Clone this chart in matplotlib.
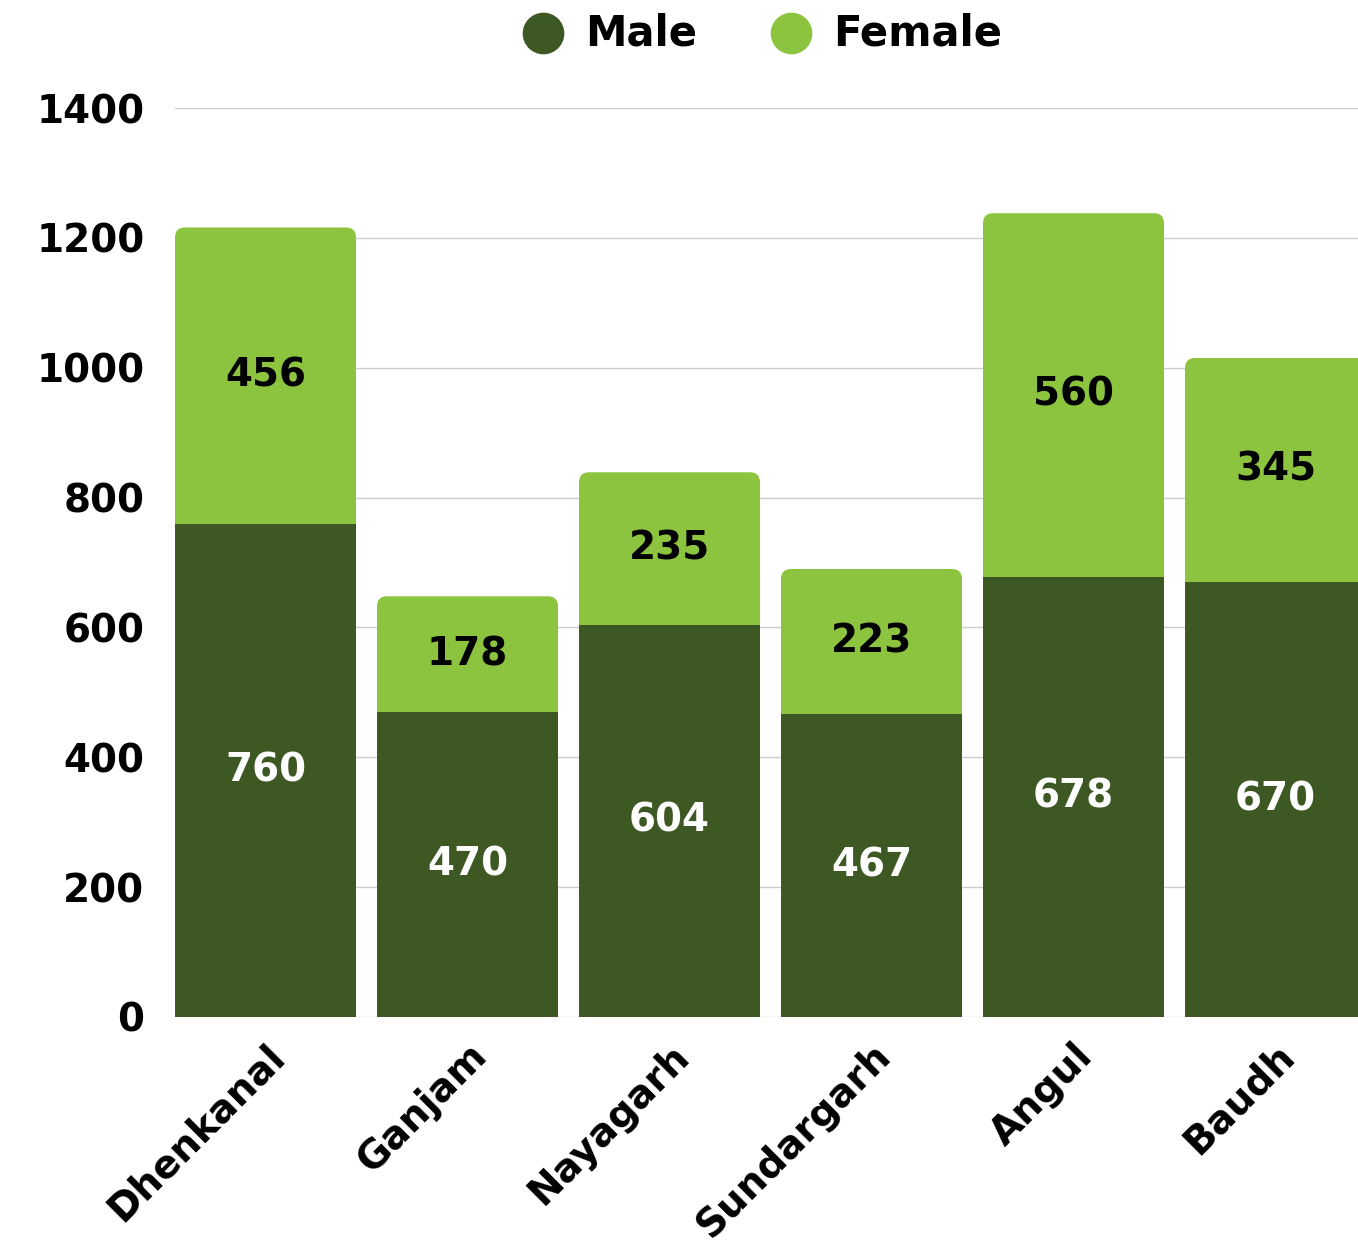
import matplotlib
matplotlib.use("Agg")
import matplotlib.pyplot as plt
from matplotlib.patches import FancyBboxPatch

districts = ["Dhenkanal", "Ganjam", "Nayagarh", "Sundargarh", "Angul", "Baudh"]
male = [760, 470, 604, 467, 678, 670]
female = [456, 178, 235, 223, 560, 345]
yticks = [0, 200, 400, 600, 800, 1000, 1200, 1400]
series = ["Male", "Female"]

MALE_C = "#3e5824"
FEMALE_C = "#8dc43f"

plt.rcParams['font.family'] = ['DejaVu Sans']
FW = 'bold'
FS = 28

W, H = 1358, 1248
fig = plt.figure(figsize=(W / 100, H / 100), dpi=100)
ax_l, ax_r, ax_t, ax_b = 175, 1358, 108, 1017
ax = fig.add_axes([ax_l / W, 1 - ax_b / H, (ax_r - ax_l) / W, (ax_b - ax_t) / H])

step_px = 202.0
width = 181 / step_px
xmin = -width / 2
xmax = xmin + (ax_r - ax_l) / step_px
ax.set_xlim(xmin, xmax)
ax.set_ylim(0, 1400)

px_per_y = (ax_b - ax_t) / 1400
r_px = 10
r_x = r_px / step_px
aspect = (r_px / px_per_y) / r_x

x = list(range(len(districts)))
for i in x:
    m, f = male[i], female[i]
    p = FancyBboxPatch((i - width / 2, m - 40), width, f + 40,
                       boxstyle=f"round,pad=0,rounding_size={r_x}",
                       mutation_aspect=aspect, facecolor=FEMALE_C,
                       edgecolor='none', zorder=2)
    ax.add_patch(p)
ax.bar(x, male, width=width, color=MALE_C, zorder=3)

for i in x:
    ax.text(i, male[i] / 2, str(male[i]), ha='center', va='center',
            color='white', fontsize=FS, fontweight=FW, zorder=4)
    ax.text(i, male[i] + female[i] / 2, str(female[i]), ha='center', va='center',
            color='black', fontsize=FS, fontweight=FW, zorder=4)

ax.set_yticks(yticks)
ax.set_yticklabels([str(v) for v in yticks], fontsize=FS, fontweight=FW)
ax.yaxis.grid(True, color='#cccccc', linewidth=1)
ax.set_axisbelow(True)
ax.tick_params(axis='y', length=0, pad=22)
ax.tick_params(axis='x', length=0, pad=14)
ax.set_xticks(x)
ax.set_xticklabels(districts, rotation=45, ha='right', rotation_mode='anchor',
                   fontsize=FS, fontweight=FW)
for s in ax.spines.values():
    s.set_visible(False)

# legend drawn in pixel space
lax = fig.add_axes([0, 0, 1, 1], zorder=5)
lax.set_xlim(0, W)
lax.set_ylim(H, 0)
lax.axis('off')
for cx, tx, lab, col in [(543, 585, series[0], MALE_C), (791, 833, series[1], FEMALE_C)]:
    lax.plot([cx], [33], marker='o', markersize=30, color=col, markeredgecolor='none')
    lax.text(tx, 34, lab, ha='left', va='center', fontsize=30, fontweight=FW)

fig.savefig("out.png", dpi=100)
